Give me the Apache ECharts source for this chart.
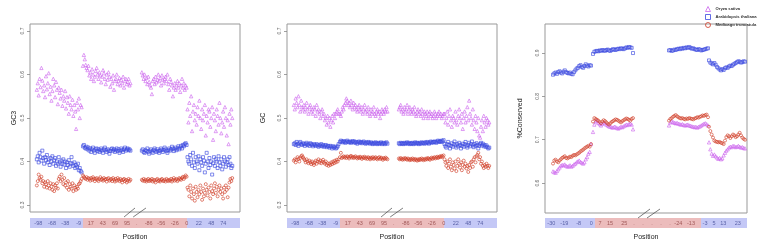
<!DOCTYPE html>
<html>
<head>
<meta charset="utf-8">
<script src="https://cdn.jsdelivr.net/npm/echarts@6/dist/echarts.min.js"></script>
<style>html,body{margin:0;padding:0;background:#fff}#main{width:757px;height:242px}</style>
</head>
<body>
<div id="main"></div>
<script>
var chart = echarts.init(document.getElementById('main'), null, {renderer: 'canvas'});

var species = ['Oryza sativa', 'Arabidopsis thaliana', 'Medicago truncatula'];
var colors = ['#cc66ee', '#3a48e0', '#cf3d28'];
var symbols = ['triangle', 'rect', 'circle'];
var yNames = ['GC3', 'GC', '%Conserved'];

// 4 segments per species: upstream start | downstream start || upstream stop | downstream stop
var gc3Oryza = [
  [.565,.58,.552,.59,.571,.615,.586,.562,.575,.548,.596,.566,.58,.603,.555,.572,.54,.562,.59,.575,.548,.583,.565,.532,.57,.558,.545,.565,.528,.55,.54,.562,.522,.548,.535,.51,.55,.53,.52,.542,.505,.53,.515,.475,.535,.52,.545,.5,.53,.525],
  [.62,.645,.635,.622,.615,.61,.62,.598,.605,.59,.612,.6,.585,.595,.608,.615,.6,.59,.605,.598,.582,.595,.61,.603,.59,.578,.6,.588,.605,.595,.572,.59,.58,.598,.565,.585,.59,.6,.578,.585,.592,.575,.588,.58,.595,.57,.585,.59,.578,.583,.59,.575,.58],
  [.605,.598,.59,.6,.585,.592,.578,.595,.583,.575,.57,.555,.585,.59,.578,.595,.582,.588,.6,.585,.592,.575,.598,.588,.58,.59,.595,.585,.6,.578,.565,.59,.583,.575,.55,.57,.58,.565,.575,.585,.57,.58,.56,.575,.59,.57,.58,.565,.575,.57],
  [.52,.49,.535,.505,.55,.47,.515,.53,.495,.51,.485,.525,.505,.54,.5,.475,.52,.495,.51,.53,.46,.505,.49,.52,.515,.48,.5,.525,.45,.51,.495,.47,.52,.505,.485,.535,.5,.465,.49,.515,.48,.525,.5,.46,.495,.44,.51,.485,.52,.5]
];
var gc3Arab = [
  [.405,.412,.398,.42,.41,.402,.425,.408,.395,.41,.403,.415,.398,.405,.392,.408,.4,.412,.395,.403,.408,.39,.4,.395,.41,.398,.388,.402,.395,.405,.393,.4,.385,.398,.392,.403,.388,.396,.41,.395,.39,.398,.385,.392,.388,.395,.38,.385,.378,.375],
  [.435,.438,.432,.43,.434,.428,.432,.425,.43,.422,.428,.432,.425,.42,.428,.43,.424,.428,.422,.426,.43,.425,.42,.428,.432,.426,.422,.428,.425,.418,.424,.428,.43,.425,.428,.422,.426,.43,.424,.428,.42,.425,.43,.426,.422,.428,.432,.425,.428,.43,.426,.428,.425],
  [.425,.428,.422,.42,.426,.424,.43,.422,.418,.425,.428,.423,.42,.426,.43,.425,.422,.428,.424,.42,.425,.43,.427,.422,.426,.432,.428,.424,.42,.426,.43,.425,.428,.434,.43,.424,.428,.432,.426,.43,.435,.428,.432,.436,.43,.438,.435,.44,.442,.438],
  [.41,.4,.395,.415,.405,.39,.42,.398,.385,.41,.4,.395,.412,.38,.405,.398,.39,.41,.402,.375,.395,.42,.4,.385,.408,.392,.4,.37,.396,.41,.39,.405,.4,.385,.412,.398,.39,.405,.382,.395,.41,.4,.388,.398,.405,.392,.41,.395,.385,.39]
];
var gc3Medi = [
  [.345,.355,.37,.362,.358,.365,.35,.355,.342,.352,.348,.34,.355,.345,.338,.35,.342,.335,.348,.332,.345,.34,.35,.338,.36,.365,.355,.37,.358,.348,.362,.345,.352,.34,.355,.335,.348,.342,.338,.35,.332,.345,.34,.335,.342,.338,.348,.35,.355,.36],
  [.368,.365,.362,.36,.364,.358,.362,.36,.356,.362,.358,.364,.36,.355,.36,.362,.358,.355,.36,.364,.358,.36,.356,.362,.358,.36,.354,.36,.362,.356,.358,.36,.355,.362,.358,.354,.36,.356,.362,.358,.355,.36,.357,.352,.358,.36,.355,.358,.352,.356,.36,.355,.358],
  [.358,.356,.36,.355,.358,.354,.357,.36,.355,.358,.356,.36,.354,.358,.356,.352,.358,.36,.355,.357,.354,.358,.36,.356,.355,.358,.354,.36,.357,.355,.358,.356,.36,.354,.358,.362,.356,.358,.36,.355,.358,.362,.36,.358,.362,.365,.36,.364,.368,.365],
  [.34,.335,.32,.345,.33,.315,.338,.325,.31,.342,.33,.318,.335,.325,.345,.33,.312,.338,.32,.328,.348,.335,.322,.34,.33,.315,.345,.332,.325,.338,.35,.328,.342,.32,.335,.345,.33,.338,.325,.315,.34,.33,.345,.335,.318,.34,.352,.36,.355,.362]
];

var gcOryza = [
  [.53,.52,.545,.535,.525,.55,.53,.515,.54,.525,.52,.53,.515,.525,.535,.52,.51,.525,.53,.515,.52,.51,.525,.52,.505,.53,.515,.52,.51,.5,.515,.52,.505,.51,.495,.5,.485,.505,.49,.5,.48,.495,.505,.49,.51,.5,.51,.515,.52,.51],
  [.51,.505,.515,.525,.52,.53,.535,.545,.54,.53,.535,.525,.54,.53,.52,.535,.525,.53,.52,.515,.525,.53,.52,.515,.525,.51,.52,.53,.515,.52,.51,.525,.515,.505,.52,.51,.515,.525,.51,.505,.515,.52,.51,.515,.5,.51,.52,.515,.51,.52,.515,.525,.515],
  [.52,.525,.53,.515,.52,.51,.525,.515,.52,.53,.51,.52,.525,.515,.51,.52,.515,.525,.51,.505,.515,.52,.51,.515,.505,.52,.51,.5,.515,.51,.505,.515,.5,.51,.515,.505,.51,.5,.505,.515,.51,.5,.505,.51,.515,.505,.51,.5,.505,.51],
  [.51,.49,.5,.515,.485,.505,.52,.495,.48,.505,.5,.49,.515,.495,.485,.505,.52,.5,.49,.51,.475,.5,.515,.49,.505,.525,.495,.54,.51,.5,.485,.52,.495,.475,.505,.49,.47,.5,.46,.455,.48,.495,.47,.505,.49,.48,.5,.495,.485,.49]
];
var gcArab = [
  [.44,.442,.438,.445,.44,.436,.442,.445,.44,.438,.442,.44,.436,.44,.443,.438,.44,.436,.442,.44,.438,.435,.44,.438,.436,.44,.437,.434,.438,.436,.44,.435,.438,.434,.436,.438,.433,.436,.435,.432,.436,.434,.43,.435,.432,.434,.43,.432,.435,.44],
  [.445,.448,.446,.444,.447,.445,.443,.446,.448,.445,.444,.446,.443,.445,.447,.444,.446,.443,.445,.441,.444,.446,.443,.445,.442,.444,.446,.443,.441,.444,.442,.445,.443,.441,.444,.442,.44,.443,.441,.444,.442,.44,.443,.441,.442,.444,.44,.442,.443,.44,.442,.444,.441],
  [.442,.44,.443,.441,.442,.44,.443,.441,.442,.444,.441,.443,.44,.442,.441,.443,.44,.442,.444,.441,.443,.442,.44,.443,.441,.444,.442,.443,.441,.444,.442,.445,.443,.441,.444,.446,.443,.445,.444,.446,.445,.443,.446,.448,.445,.447,.445,.448,.446,.449],
  [.44,.435,.432,.44,.445,.438,.43,.436,.442,.434,.44,.446,.437,.432,.44,.435,.443,.438,.43,.436,.441,.434,.44,.445,.436,.432,.438,.443,.435,.44,.446,.437,.433,.44,.436,.442,.438,.43,.436,.44,.443,.437,.441,.435,.438,.434,.437,.433,.43,.432]
];
var gcMedi = [
  [.402,.405,.398,.404,.41,.406,.4,.408,.412,.414,.41,.406,.403,.398,.405,.4,.396,.402,.398,.394,.4,.396,.392,.398,.402,.395,.4,.405,.398,.402,.396,.4,.404,.398,.395,.4,.392,.396,.39,.395,.392,.398,.394,.4,.396,.402,.398,.404,.4,.405],
  [.41,.42,.408,.41,.412,.409,.411,.408,.412,.41,.407,.411,.413,.409,.411,.408,.41,.412,.409,.407,.41,.408,.411,.409,.406,.41,.408,.411,.407,.409,.406,.41,.408,.405,.409,.407,.41,.406,.408,.41,.407,.405,.408,.41,.406,.409,.407,.404,.408,.406,.409,.407,.405],
  [.407,.405,.408,.406,.404,.407,.405,.408,.406,.404,.407,.405,.403,.406,.404,.407,.405,.403,.406,.404,.402,.405,.403,.406,.404,.407,.405,.403,.406,.404,.407,.405,.408,.406,.404,.407,.409,.406,.408,.41,.407,.409,.411,.408,.41,.412,.41,.413,.411,.414],
  [.405,.398,.39,.4,.385,.395,.405,.388,.38,.398,.392,.384,.4,.378,.39,.405,.395,.386,.398,.38,.392,.402,.388,.395,.384,.39,.376,.392,.385,.398,.4,.388,.405,.41,.398,.412,.415,.42,.405,.41,.395,.4,.39,.385,.392,.388,.395,.39,.385,.39]
];

var consOryza = [
  [.627,.625,.624,.628,.632,.636,.64,.642,.641,.643,.64,.638,.639,.641,.638,.64,.643,.645,.648,.65,.652,.649,.647,.645,.648,.655,.66,.668,.672,.69],
  [.718,.735,.742,.744,.739,.736,.733,.737,.74,.738,.735,.733,.731,.73,.729,.728,.73,.729,.727,.726,.728,.73,.729,.731,.733,.735,.734,.736,.737,.735,.724],
  [.733,.74,.742,.741,.739,.738,.739,.737,.736,.735,.736,.734,.733,.734,.735,.733,.732,.731,.73,.729,.73,.728,.73,.731,.733,.735,.737,.738,.736,.733],
  [.694,.678,.668,.663,.666,.662,.659,.656,.658,.655,.657,.664,.67,.675,.678,.682,.684,.683,.686,.685,.683,.684,.686,.684,.682,.683,.681,.68]
];
var consArab = [
  [.85,.853,.855,.852,.856,.858,.855,.853,.857,.86,.856,.854,.853,.855,.852,.851,.856,.86,.864,.866,.87,.872,.868,.866,.87,.874,.871,.869,.872,.871],
  [.898,.903,.904,.905,.904,.906,.905,.907,.906,.905,.907,.908,.906,.905,.907,.909,.908,.907,.909,.91,.909,.911,.91,.909,.911,.913,.912,.914,.913,.912,.9],
  [.906,.907,.905,.906,.908,.907,.909,.91,.909,.911,.91,.912,.911,.913,.912,.914,.912,.91,.911,.909,.908,.907,.909,.908,.906,.907,.908,.909,.91,.911],
  [.883,.878,.876,.874,.877,.873,.868,.865,.862,.86,.863,.861,.865,.867,.866,.869,.871,.87,.873,.875,.877,.879,.881,.88,.878,.879,.881,.88]
];
var consMedi = [
  [.645,.652,.654,.65,.648,.652,.655,.658,.66,.662,.658,.657,.659,.661,.66,.663,.665,.664,.666,.668,.67,.673,.675,.677,.68,.682,.684,.686,.684,.69],
  [.742,.75,.748,.746,.744,.741,.738,.742,.745,.743,.74,.737,.735,.738,.741,.743,.745,.747,.746,.744,.742,.74,.743,.745,.747,.749,.748,.746,.744,.748,.75],
  [.744,.748,.75,.753,.755,.757,.754,.752,.75,.749,.75,.748,.747,.749,.748,.75,.749,.748,.747,.749,.75,.752,.751,.753,.754,.756,.755,.757,.758,.752],
  [.73,.72,.712,.705,.698,.696,.695,.694,.695,.693,.692,.69,.698,.706,.71,.708,.704,.708,.712,.71,.706,.708,.712,.716,.71,.705,.702,.7]
];

// x index layout of each panel (segment start / end index)
var segGC = [[15, 113], [116, 220], [245, 343], [345, 443]];
var segCons = [[8, 46], [48, 88], [124, 163], [164, 200]];
var xMaxGC = 460, xMaxCons = 202;

// position tick labels
var tickPosGC = [18.2, 48.2, 77.3, 106.7, 133, 159.3, 186.2, 212.5, 233.7, 260, 287.6, 317, 343.3, 369.6, 397.2, 423.4];
var tickTextGC = ['-98', '-68', '-38', '-9', '17', '43', '69', '95', '.', '-86', '-56', '-26', '0', '22', '48', '74'];
var tickPosCons = [6.3, 19.3, 33.7, 46.3, 55, 65, 79.3, 89, 98, 107, 116, 125, 133.3, 146, 160, 169, 178.3, 192.7];
var tickTextCons = ['-30', '-19', '-8', '0', '7', '15', '25', '.', '.', '.', '.', '.', '-24', '-13', '-3', '5', '13', '23'];
var bandGC = [116, 344];
var bandCons = [50, 156];

var yTicksGC = [0.3, 0.4, 0.5, 0.6, 0.7];
var yTicksCons = [0.6, 0.7, 0.8, 0.9];

var panels = [
  {data: [gc3Oryza, gc3Arab, gc3Medi], seg: segGC, xMax: xMaxGC, ticks: tickPosGC, text: tickTextGC, band: bandGC, yMin: 0.284, yMax: 0.716, yTicks: yTicksGC, left: 30, width: 210, height: 188, nameGap: 12, slash: [[206, 230], [226, 254]]},
  {data: [gcOryza, gcArab, gcMedi], seg: segGC, xMax: xMaxGC, ticks: tickPosGC, text: tickTextGC, band: bandGC, yMin: 0.284, yMax: 0.716, yTicks: yTicksGC, left: 287, width: 210, height: 188, nameGap: 20, slash: [[206, 230], [226, 254]]},
  {data: [consOryza, consArab, consMedi], seg: segCons, xMax: xMaxCons, ticks: tickPosCons, text: tickTextCons, band: bandCons, yMin: 0.531, yMax: 0.967, yTicks: yTicksCons, left: 545, width: 202, height: 189, nameGap: 21, slash: [[93, 105], [102, 115]]}
];

function toPoints(segs, ranges) {
  var out = [];
  segs.forEach(function (vals, k) {
    var a = ranges[k][0], b = ranges[k][1], st = (b - a) / (vals.length - 1);
    vals.forEach(function (v, i) { out.push([a + i * st, v]); });
  });
  return out;
}

function nearest(arr, v) {
  var best = 0;
  for (var i = 1; i < arr.length; i++) {
    if (Math.abs(arr[i] - v) < Math.abs(arr[best] - v)) best = i;
  }
  return best;
}

var font = 'Liberation Sans, Arial, sans-serif';
var grid = [], xAxis = [], yAxis = [], series = [];

panels.forEach(function (p, k) {
  grid.push({left: p.left, top: 24, width: p.width, height: p.height, show: true, borderColor: '#999', borderWidth: 1, outerBoundsMode: 'none'});
  xAxis.push({type: 'value', gridIndex: k, min: 0, max: p.xMax, show: false});
  yAxis.push({
    type: 'value', gridIndex: k, min: p.yMin, max: p.yMax,
    name: yNames[k], nameLocation: 'middle', nameGap: p.nameGap, nameRotate: 90,
    nameTextStyle: {fontSize: 7, color: '#222', fontFamily: font},
    splitLine: {show: false}, axisLine: {show: false},
    axisTick: {show: true, length: 3, customValues: p.yTicks, lineStyle: {color: '#888', width: 0.8}},
    axisLabel: {customValues: p.yTicks, rotate: 90, fontSize: 5, margin: 5, color: '#666', fontFamily: font,
      formatter: function (v) { return v.toFixed(1); }}
  });
  var d = p.data;
  for (var s = 0; s < 3; s++) {
    series.push({
      type: 'scatter', name: species[s], xAxisIndex: k, yAxisIndex: k,
      symbol: symbols[s], symbolSize: s === 0 ? 3.3 : 3,
      itemStyle: {color: 'rgba(0,0,0,0)', borderColor: colors[s], borderWidth: 0.8},
      data: toPoints(d[s], p.seg), silent: true
    });
  }
  // axis break marks
  var y0 = p.yMin - (p.yMax - p.yMin) * 5 / p.height, y1 = p.yMin + (p.yMax - p.yMin) * 4 / p.height;
  p.slash.forEach(function (sl) {
    series.push({type: 'line', xAxisIndex: k, yAxisIndex: k, clip: false, symbol: 'none', silent: true,
      lineStyle: {color: '#444', width: 0.7}, data: [[sl[0], y0], [sl[1], y1]]});
  });
});

panels.forEach(function (p, k) {
  var g = 3 + k;
  grid.push({left: p.left, top: 218, width: p.width, height: 10, outerBoundsMode: 'none'});
  xAxis.push({
    type: 'value', gridIndex: g, min: 0, max: p.xMax, z: 20,
    name: 'Position', nameLocation: 'middle', nameGap: 6,
    nameTextStyle: {fontSize: 7, color: '#222', fontFamily: font},
    axisLine: {show: false}, axisTick: {show: false}, splitLine: {show: false},
    axisLabel: {
      customValues: p.ticks, margin: -8, fontSize: 5.5, fontFamily: font,
      formatter: function (v) { return p.text[nearest(p.ticks, v)]; },
      color: function (v) { return (v < p.band[0] || v > p.band[1]) ? '#5a62a8' : '#a05858'; }
    }
  });
  yAxis.push({type: 'value', gridIndex: g, min: 0, max: 1, show: false});
  series.push({
    type: 'scatter', xAxisIndex: g, yAxisIndex: g, data: [], silent: true, z: 1,
    markArea: {silent: true, z: 1, data: [
      [{xAxis: 0, itemStyle: {color: '#c4c8f6'}}, {xAxis: p.band[0]}],
      [{xAxis: p.band[0], itemStyle: {color: '#ecbcbc'}}, {xAxis: p.band[1]}],
      [{xAxis: p.band[1], itemStyle: {color: '#c4c8f6'}}, {xAxis: p.xMax}]
    ]}
  });
});

var option = {
  animation: false,
  backgroundColor: '#fff',
  legend: {
    left: 700, top: 1, orient: 'vertical', itemWidth: 5, itemHeight: 5, itemGap: 2,
    textStyle: {fontSize: 4.2, fontWeight: 'bold', color: '#333', fontFamily: font},
    data: species.map(function (n, i) {
      return {name: n, icon: symbols[i],
        itemStyle: {color: 'rgba(0,0,0,0)', borderColor: colors[i], borderWidth: 1}};
    })
  },
  grid: grid,
  xAxis: xAxis,
  yAxis: yAxis,
  series: series
};
chart.setOption(option);
</script>
</body>
</html>
